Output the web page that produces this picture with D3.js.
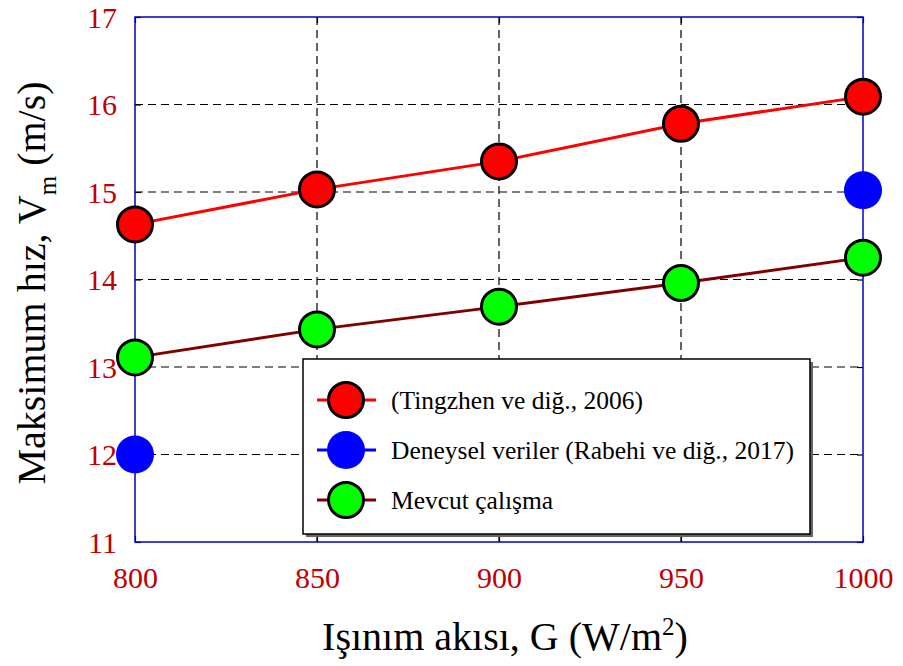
<!DOCTYPE html>
<html>
<head>
<meta charset="utf-8">
<script src="https://cdn.jsdelivr.net/npm/d3@7"></script>
<style>
  body { margin: 0; background: #fff; }
</style>
</head>
<body>
<svg width="903" height="666"></svg>
<script>
// Veriler
const irradiance = [800, 850, 900, 950, 1000];
const tingzhen = [14.63, 15.03, 15.35, 15.78, 16.09];
const mevcut = [13.11, 13.43, 13.69, 13.96, 14.25];
const deneyselX = [800, 1000];
const deneysel = [12.0, 15.02];
const xTicks = [800, 850, 900, 950, 1000];
const yTicks = [11, 12, 13, 14, 15, 16, 17];
const legendLabels = ["(Tingzhen ve diğ., 2006)", "Deneysel veriler (Rabehi ve diğ., 2017)", "Mevcut çalışma"];

const FONT = "'Liberation Serif', 'Times New Roman', serif";
const svg = d3.select("svg");
const margin = { top: 17, right: 40, bottom: 124, left: 135 };
const width = 903, height = 666;
const innerWidth = width - margin.left - margin.right;
const innerHeight = height - margin.top - margin.bottom;

const x = d3.scaleLinear().domain([800, 1000]).range([0, innerWidth]);
const y = d3.scaleLinear().domain([11, 17]).range([innerHeight, 0]);

const g = svg.append("g").attr("transform", `translate(${margin.left},${margin.top})`);

// Rejilla (kesikli)
g.selectAll(".vgrid").data(xTicks.slice(1, -1)).enter().append("line")
  .attr("x1", d => x(d)).attr("x2", d => x(d))
  .attr("y1", 0).attr("y2", innerHeight)
  .attr("stroke", "#000").attr("stroke-width", 1.2).attr("stroke-dasharray", "8,5");
g.selectAll(".hgrid").data(yTicks.slice(1, -1)).enter().append("line")
  .attr("x1", 0).attr("x2", innerWidth)
  .attr("y1", d => y(d)).attr("y2", d => y(d))
  .attr("stroke", "#000").attr("stroke-width", 1.2).attr("stroke-dasharray", "8,5");

// Ejes
const tickColor = "#c00000";
const xAxis = g.append("g").attr("transform", `translate(0,${innerHeight})`)
  .call(d3.axisBottom(x).tickValues(xTicks).tickSize(-6).tickPadding(25).tickFormat(d3.format("d")));
const yAxis = g.append("g")
  .call(d3.axisLeft(y).tickValues(yTicks).tickSize(-6).tickPadding(18).tickFormat(d3.format("d")));
const rAxis = g.append("g").attr("transform", `translate(${innerWidth},0)`)
  .call(d3.axisRight(y).tickValues(yTicks).tickSize(-6));
const tAxis = g.append("g")
  .call(d3.axisTop(x).tickValues(xTicks).tickSize(-6));
rAxis.selectAll("text").remove();
tAxis.selectAll("text").remove();

g.selectAll(".domain").remove();
g.selectAll(".tick line").attr("stroke", "#000").attr("stroke-width", 1.2);
[xAxis, yAxis].forEach(a => a.attr("font-family", FONT).attr("font-size", 30)
  .selectAll("text")
  .attr("fill", tickColor)
  .attr("font-family", FONT)
  .attr("font-size", 30));
yAxis.selectAll("text").attr("dy", "0.34em");

// Cuadro azul
g.append("rect")
  .attr("x", 0).attr("y", 0).attr("width", innerWidth).attr("height", innerHeight)
  .attr("fill", "none").attr("stroke", "#0000cc").attr("stroke-width", 1.5);

// Líneas
const line = d3.line().x(d => x(d[0])).y(d => y(d[1]));
g.append("path").datum(d3.zip(irradiance, tingzhen))
  .attr("fill", "none").attr("stroke", "#ff0000").attr("stroke-width", 3).attr("d", line);
g.append("path").datum(d3.zip(irradiance, mevcut))
  .attr("fill", "none").attr("stroke", "#800000").attr("stroke-width", 3).attr("d", line);

// Marcadores
const R = 17.5;
g.selectAll(".red").data(d3.zip(irradiance, tingzhen)).enter().append("circle")
  .attr("cx", d => x(d[0])).attr("cy", d => y(d[1])).attr("r", R)
  .attr("fill", "#ff0000").attr("stroke", "#000").attr("stroke-width", 3);
g.selectAll(".blue").data(d3.zip(deneyselX, deneysel)).enter().append("circle")
  .attr("cx", d => x(d[0])).attr("cy", d => y(d[1])).attr("r", R + 1.5)
  .attr("fill", "#0000ff");
g.selectAll(".green").data(d3.zip(irradiance, mevcut)).enter().append("circle")
  .attr("cx", d => x(d[0])).attr("cy", d => y(d[1])).attr("r", R)
  .attr("fill", "#00ff00").attr("stroke", "#000").attr("stroke-width", 3);

// Leyenda
const lg = svg.append("g").attr("transform", "translate(303,359)");
const lw = 507, lh = 175;
lg.append("rect").attr("x", 3).attr("y", 3).attr("width", lw).attr("height", lh).attr("fill", "#666");
lg.append("rect").attr("width", lw).attr("height", lh)
  .attr("fill", "#fff").attr("stroke", "#000").attr("stroke-width", 1.5);
const items = [
  { color: "#ff0000", fill: "#ff0000", stroke: "#000" },
  { color: "#0000ff", fill: "#0000ff", stroke: "none" },
  { color: "#800000", fill: "#00ff00", stroke: "#000" }
];
items.forEach((it, i) => {
  const cy = 41 + i * 50;
  lg.append("line").attr("x1", 14).attr("x2", 73).attr("y1", cy).attr("y2", cy)
    .attr("stroke", it.color).attr("stroke-width", 3);
  lg.append("circle").attr("cx", 43).attr("cy", cy).attr("r", it.stroke === "none" ? 19 : R)
    .attr("fill", it.fill).attr("stroke", it.stroke).attr("stroke-width", 3);
  lg.append("text").attr("x", 88).attr("y", cy).attr("dy", "0.34em")
    .attr("font-family", FONT).attr("font-size", 25.5).attr("fill", "#000").text(legendLabels[i]);
});

// Títulos de ejes
const xt = svg.append("text").attr("x", 505).attr("y", 650)
  .attr("text-anchor", "middle").attr("font-family", FONT).attr("font-size", 40).attr("fill", "#000");
xt.append("tspan").text("Işınım akısı, G (W/m");
xt.append("tspan").attr("dy", -15).attr("font-size", 25).text("2");
xt.append("tspan").attr("dy", 15).text(")");

const yt = svg.append("text")
  .attr("transform", "translate(45,283) rotate(-90)")
  .attr("text-anchor", "middle").attr("font-family", FONT).attr("font-size", 40).attr("fill", "#000");
yt.append("tspan").text("Maksimum hız, V");
yt.append("tspan").attr("dy", 11).attr("font-size", 25).text("m");
yt.append("tspan").attr("dy", -11).text(" (m/s)");
</script>
</body>
</html>
